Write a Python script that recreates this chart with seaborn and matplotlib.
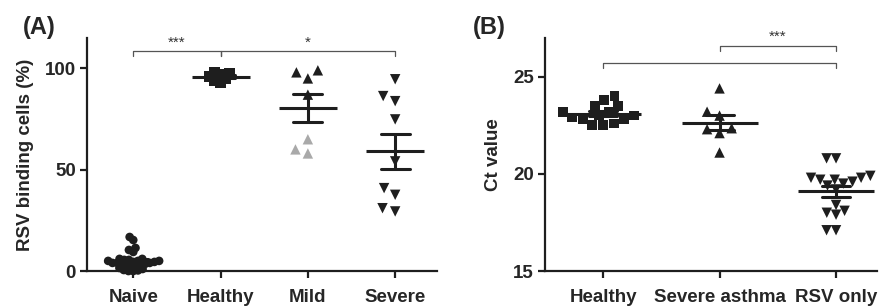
import numpy as np
import pandas as pd
import matplotlib
matplotlib.use('Agg')
import matplotlib.pyplot as plt
import seaborn as sns

# (A) RSV binding cells (%)
groups_a = ['Naive', 'Healthy', 'Mild', 'Severe']
markers_a = ['o', 's', '^', 'v']
naive = [0, 0, 0.3, 0.5, 1, 1.5, 2, 2.5, 3, 3, 3.5, 3.5, 4, 4, 4, 4.5, 4.5,
         5, 5, 5, 5.5, 5.5, 6, 6, 9.4, 10.4, 11.4, 15.3, 16.8]
healthy_a = [98, 97.5, 97, 96, 95, 94, 93]
mild = [98, 95, 99, 87, 65, 58, 60]
mild_shade = ['black', 'black', 'black', 'black', 'gray', 'gray', 'gray']
severe = [94.6, 83.8, 86.3, 74.8, 54.1, 40.9, 37.6, 29.4, 31.0]
brackets_a = [('Naive', 'Healthy', 108.5, '***'), ('Healthy', 'Severe', 108.5, '*')]

# (B) Ct value
groups_b = ['Healthy', 'Severe asthma', 'RSV only']
markers_b = ['s', '^', 'v']
healthy_b = [24.0, 23.8, 23.5, 23.5, 23.2, 23.2, 23.0, 23.0, 22.9, 22.8, 22.8,
             22.6, 22.5, 22.5]
asthma = [24.4, 23.0, 23.2, 22.3, 22.1, 22.35, 21.1]
rsv_only = [20.8, 20.8, 19.8, 19.7, 19.9, 19.6, 19.5, 19.8, 19.7, 19.4, 19.2,
            18.4, 18.0, 17.9, 18.1, 17.1, 17.1]
brackets_b = [('Severe asthma', 'RSV only', 26.6, '***'), ('Healthy', 'RSV only', 25.7, '')]

ink = '#1e1e1e'
shade_colors = {'black': ink, 'gray': '#a9a9a9'}


def make_frame(groups, series, shades):
    rows = []
    for g, vals, sh in zip(groups, series, shades):
        if sh is None:
            sh = ['black'] * len(vals)
        for v, s in zip(vals, sh):
            rows.append({'group': g, 'value': v, 'shade': s})
    return pd.DataFrame(rows)


df_a = make_frame(groups_a, [naive, healthy_a, mild, severe], [None, None, mild_shade, None])
df_b = make_frame(groups_b, [healthy_b, asthma, rsv_only], [None, None, None])

sns.set_style('ticks')
plt.rcParams['font.family'] = ['Liberation Sans', 'DejaVu Sans']
plt.rcParams['font.weight'] = 'bold'

fig = plt.figure(figsize=(8.83, 3.08), dpi=100)
ax_a = fig.add_axes([0.0985, 0.12, 0.3965, 0.757])
ax_b = fig.add_axes([0.617, 0.12, 0.376, 0.757])

grow = {}  # collection -> enlargement factor after the swarm is laid out


def panel(ax, df, groups, markers, swarm_sizes, show_sizes, mean_len, capsize):
    for g, m, s, show in zip(groups, markers, swarm_sizes, show_sizes):
        n_before = len(ax.collections)
        sns.swarmplot(data=df[df['group'] == g], x='group', y='value', order=groups,
                      hue='shade', palette=shade_colors, marker=m, size=s,
                      linewidth=0, legend=False, ax=ax)
        for c in ax.collections[n_before:]:
            grow[c] = show / s
    sns.pointplot(data=df, x='group', y='value', order=groups, errorbar='se',
                  capsize=capsize, color=ink, markers='_', linestyles='none',
                  markersize=mean_len, markeredgewidth=2.2,
                  err_kws={'linewidth': 2.2}, ax=ax)


panel(ax_a, df_a, groups_a, markers_a, [3.3, 4.5, 9, 9], [6.2, 7.5, 7.5, 7.5], 42, 0.33)
panel(ax_b, df_b, groups_b, markers_b, [7.5, 9, 6.5], [7, 7.5, 7.5], 55, 0.24)


def style(ax, ylim, yticks, xlim, ylabel, brackets, groups, drop):
    ax.set_ylim(*ylim)
    ax.set_xlim(*xlim)
    ax.set_yticks(yticks)
    ax.set_xlabel('')
    ax.set_ylabel(ylabel, fontsize=13.5, fontweight='bold', labelpad=8)
    sns.despine(ax=ax)
    for side in ['left', 'bottom']:
        ax.spines[side].set_linewidth(1.6)
        ax.spines[side].set_color(ink)
    ax.tick_params(axis='both', direction='out', length=5, width=1.6, color=ink,
                   labelsize=13.5, pad=3)
    ax.tick_params(axis='x', pad=8)
    for lab in ax.get_xticklabels() + ax.get_yticklabels():
        lab.set_fontweight('bold')
    for g1, g2, y, label in brackets:
        x1, x2 = groups.index(g1), groups.index(g2)
        ax.plot([x1, x1, x2, x2], [y - drop, y, y, y - drop], color='#555555',
                lw=0.9, clip_on=False)
        if label:
            ax.text((x1 + x2) / 2, y + drop * 0.3, label, ha='center', va='bottom',
                    fontsize=11, fontweight='normal', color='#333333')


style(ax_a, (0, 115), [0, 50, 100], (-0.53, 3.48), 'RSV binding cells (%)',
      brackets_a, groups_a, 2.5)
style(ax_b, (15, 27), [15, 20, 25], (-0.5, 2.35), 'Ct value', brackets_b, groups_b, 0.25)

# lay out the swarms once, then freeze them and enlarge the markers so they overlap
fig.canvas.draw()
for c, k in grow.items():
    if 'draw' in c.__dict__:
        del c.draw
    c.set_sizes(c.get_sizes() * k * k)
    c.set_clip_on(False)

fig.text(0.026, 0.912, '(A)', fontsize=17, fontweight='bold', va='center')
fig.text(0.536, 0.912, '(B)', fontsize=17, fontweight='bold', va='center')

fig.savefig('out.png', dpi=100)
